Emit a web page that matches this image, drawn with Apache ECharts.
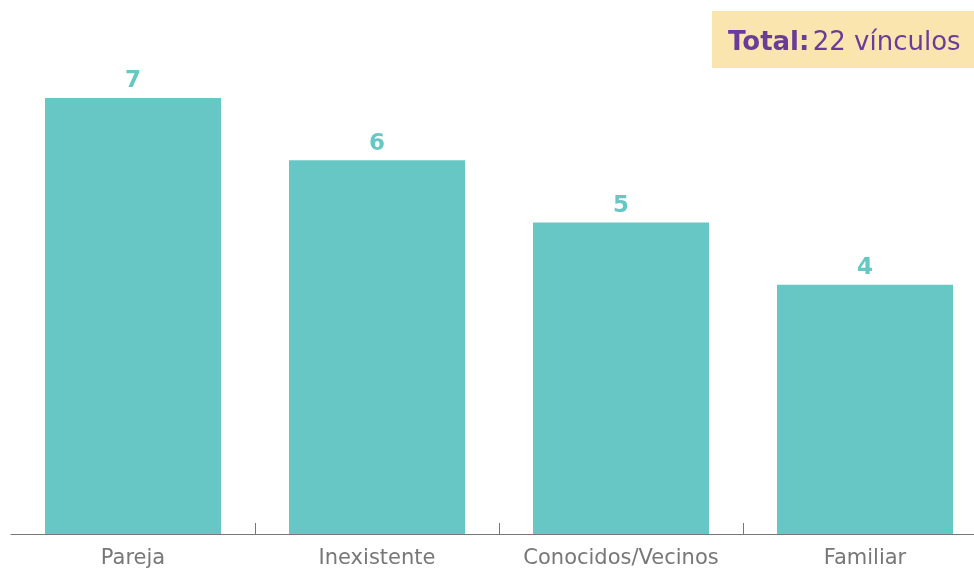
<!DOCTYPE html>
<html>
<head>
<meta charset="utf-8">
<script src="https://cdn.jsdelivr.net/npm/echarts@6/dist/echarts.min.js"></script>
<style>
  html, body { margin: 0; padding: 0; background: #fff; overflow: hidden; }
  #chart { width: 988px; height: 569px; }
</style>
</head>
<body>
<div id="chart"></div>
<script>
// categorías y valores (vínculos)
const categories = ['Pareja', 'Inexistente', 'Conocidos/Vecinos', 'Familiar'];
const values = [7, 6, 5, 4];
const totalLabel = '22 vínculos';

const teal = '#66C7C4';
const purple = '#6A3C99';
const font = 'DejaVu Sans';

// el div es un poco más ancho que la ventana: la última categoría queda cortada como en el original
const chart = echarts.init(document.getElementById('chart'));
chart.setOption({
  animation: false,
  grid: { left: 11, right: 1, top: 98, bottom: 34 },
  graphic: [{
    type: 'group',
    right: 14,
    top: 11,
    children: [
      { type: 'rect', shape: { x: 0, y: 0, width: 262, height: 57 }, style: { fill: '#FBE5AF' } },
      {
        type: 'text', x: 16, y: 32,
        style: {
          text: '{b|Total:} {r|' + totalLabel + '}',
          verticalAlign: 'middle',
          rich: {
            b: { fontFamily: font, fontWeight: 'bold', fontSize: 26, fill: purple },
            r: { fontFamily: font, fontSize: 26, fill: purple }
          }
        }
      }
    ]
  }],
  xAxis: {
    type: 'category',
    data: categories,
    axisLine: { lineStyle: { color: '#777', width: 1 } },
    axisTick: {
      show: true, inside: true, length: 11,
      interval: function (i) { return i > 0; },
      lineStyle: { color: '#777' }
    },
    axisLabel: { interval: 0, color: '#777', fontFamily: font, fontSize: 21, margin: 14 }
  },
  yAxis: {
    type: 'value', min: 0, max: 7,
    show: false,
    splitLine: { show: false }
  },
  series: [{
    type: 'bar',
    data: values,
    barWidth: 176,
    itemStyle: { color: teal },
    label: {
      show: true, position: 'top', distance: 5,
      color: teal, fontFamily: font, fontWeight: 'bold', fontSize: 23
    }
  }]
});
</script>
</body>
</html>
